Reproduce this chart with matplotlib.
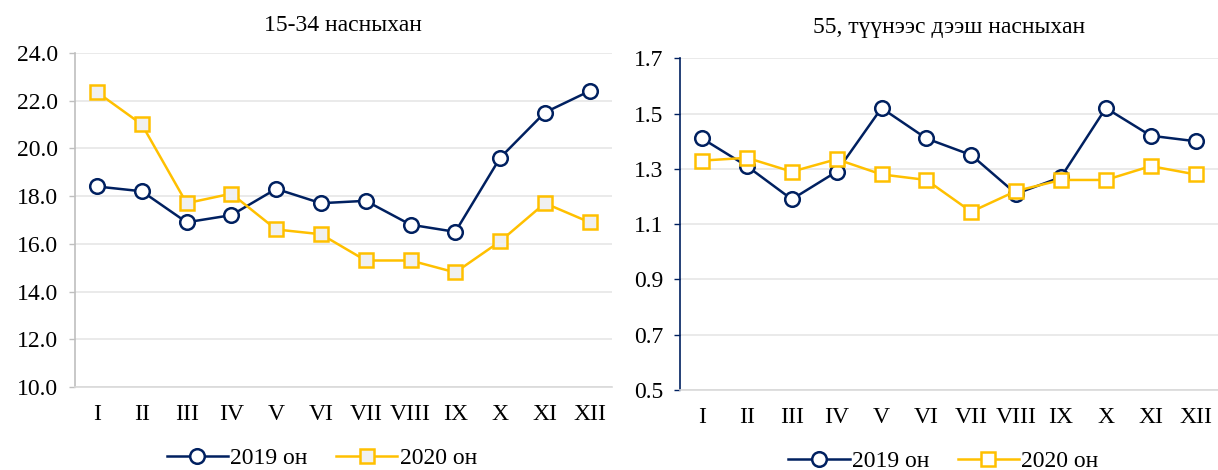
import matplotlib.pyplot as plt

plt.rcParams['font.family'] = ['Liberation Serif', 'DejaVu Serif']

months = ["I", "II", "III", "IV", "V", "VI", "VII", "VIII", "IX", "X", "XI", "XII"]

young_2019 = [18.4, 18.2, 16.9, 17.2, 18.3, 17.7, 17.8, 16.8, 16.5, 19.6, 21.5, 22.4]
young_2020 = [22.35, 21.0, 17.7, 18.1, 16.6, 16.4, 15.3, 15.3, 14.8, 16.1, 17.7, 16.9]

old_2019 = [1.41, 1.31, 1.19, 1.29, 1.52, 1.41, 1.35, 1.21, 1.27, 1.52, 1.42, 1.40]
old_2020 = [1.33, 1.34, 1.29, 1.335, 1.28, 1.26, 1.145, 1.22, 1.26, 1.26, 1.31, 1.28]

navy = "#002060"
gold = "#FFC000"
grid_col = "#e6e6e6"


def draw_panel(ax, v2019, v2020, title, ylim, yticks, square_fill, spine_col, leg_x, title_pad):
    x = range(len(months))
    ax.plot(x, v2019, color=navy, lw=1.8, marker="o", ms=10.5, mfc="white",
            mec=navy, mew=1.8, label="2019 он", zorder=3)
    ax.plot(x, v2020, color=gold, lw=1.8, marker="s", ms=10.5, mfc=square_fill,
            mec=gold, mew=1.8, label="2020 он", zorder=4)
    ax.set_xlim(-0.5, len(months) - 0.5)
    ax.set_ylim(*ylim)
    ax.set_yticks(yticks)
    ax.set_yticklabels(["{:.1f}".format(v) for v in yticks])
    ax.set_xticks(list(x))
    ax.set_xticklabels(months)
    ax.tick_params(axis="x", length=0, pad=12, labelsize=17)
    ax.tick_params(axis="y", length=4, width=1, color=spine_col, pad=8, labelsize=17)
    ax.grid(axis="y", color=grid_col, lw=1.2)
    ax.set_axisbelow(True)
    for s in ["top", "right"]:
        ax.spines[s].set_visible(False)
    ax.spines["left"].set_color(spine_col)
    ax.spines["left"].set_linewidth(1.2)
    ax.spines["bottom"].set_color("#d9d9d9")
    ax.spines["bottom"].set_linewidth(1.2)
    ax.set_title(title, fontsize=17, pad=title_pad)
    ax.legend(loc="upper center", bbox_to_anchor=(leg_x, -0.14), ncol=2,
              frameon=False, fontsize=17, handlelength=2.6, columnspacing=1.2,
              handletextpad=0.1, borderpad=0.1)


fig = plt.figure(figsize=(12.18, 4.70), dpi=100)
ax1 = fig.add_axes([0.0613, 0.1766, 0.4412, 0.711])
ax2 = fig.add_axes([0.558, 0.170, 0.442, 0.706])

draw_panel(ax1, young_2019, young_2020, "15-34 насныхан", (10, 24),
           [10, 12, 14, 16, 18, 20, 22, 24], "#f0f0f0", "#bfbfbf", 0.46, 16)
draw_panel(ax2, old_2019, old_2020, "55, түүнээс дээш насныхан", (0.5, 1.7),
           [0.5, 0.7, 0.9, 1.1, 1.3, 1.5, 1.7], "white", navy, 0.49, 18)

fig.savefig("out.png", dpi=100)
